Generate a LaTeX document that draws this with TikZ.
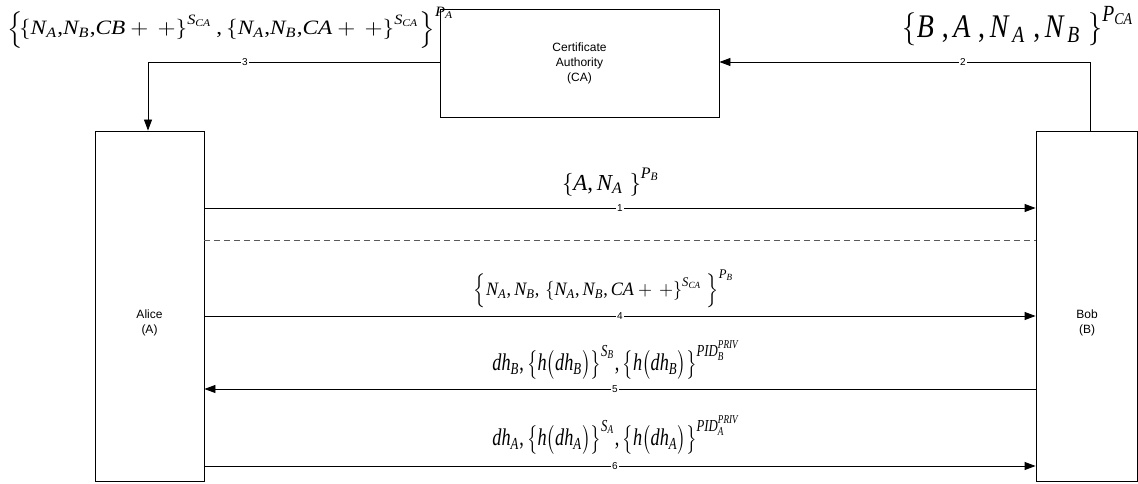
\documentclass[tikz,border=0pt]{standalone}
\usepackage{amsmath}
\usepackage{fontspec}
\setmainfont{Liberation Sans}
\newfontfamily\tms{Liberation Serif}
\usepackage{graphicx}
\usetikzlibrary{arrows.meta,calc}
\newcommand{\mi}[1]{\text{\tms\itshape #1}}
\newcommand{\cm}{\text{\tms ,}\,}
\newcommand{\cmt}{\text{\tms ,}}
\tikzset{
  entity/.style={draw, line width=0.9pt, inner sep=0pt},
  lbl/.style={font=\fontsize{12}{15}\selectfont, align=center},
  num/.style={fill=white, inner sep=1pt, font=\fontsize{10}{12}\selectfont},
  msg/.style={draw, line width=0.9pt, -{Triangle[length=11pt,width=8pt]}},
  sep/.style={draw=black!65, line width=0.9pt, dash pattern=on 6pt off 4pt},
  eq/.style={inner sep=0pt}
}
\begin{document}
\begin{tikzpicture}[x=1pt,y=-1pt]
\useasboundingbox (0,0) rectangle (1138,484);
% boxes
\node[entity, minimum width=279pt, minimum height=108pt] (ca) at (579.5,63) {};
\node[lbl] (catext) at (579.5,63) {Certificate\\Authority\\(CA)};
\node[entity, minimum width=109pt, minimum height=350pt] (alice) at (149.5,306) {};
\node[lbl] (alicetext) at (149.5,323) {Alice\\(A)};
\node[entity, minimum width=101.5pt, minimum height=350pt] (bob) at (1086.75,306) {};
\node[lbl] (bobtext) at (1087,323) {Bob\\(B)};
% corner coordinates
\coordinate (c2) at (1090,62);
\coordinate (c3) at (148,62);
% connectors
\draw[msg] (bob.north -| c2) -- (c2) -- (ca.east |- c2);
\node[num] (n2) at (963,62) {2};
\draw[msg] (ca.west |- c3) -- (c3) -- (alice.north -| c3);
\node[num] (n3) at (245,62) {3};
\draw[msg] (alice.east |- 0,208) -- (bob.west |- 0,208);
\node[num] (n1) at (620,208) {1};
\draw[sep] (alice.east |- 0,240) -- (bob.west |- 0,240);
\draw[msg] (alice.east |- 0,316) -- (bob.west |- 0,316);
\node[num] (n4) at (620,316) {4};
\draw[msg] (bob.west |- 0,389) -- (alice.east |- 0,389);
\node[num] (n5) at (615,389) {5};
\draw[msg] (alice.east |- 0,466) -- (bob.west |- 0,466);
\node[num] (n6) at (615,466) {6};
% formulas
\node[eq] (f3) at (231,27.5) {\resizebox*{447pt}{41pt}{$\left\{\!\left\{\mi{N}_{\mi{A}}\cmt \mi{N}_{\mi{B}}\cmt \mi{CB}+\,+\right\}^{\mi{S}_{\mi{CA}}}\cmt \left\{\mi{N}_{\mi{A}}\cmt \mi{N}_{\mi{B}}\cmt \mi{CA}+\,+\right\}^{\mi{S}_{\mi{CA}}}\right\}^{\mi{P}_{\mi{A}}}$}};
\node[eq] (f2) at (1019,26) {\resizebox*{232pt}{40pt}{$\left\{\mi{B}\ \cm \mi{A}\ \cm \mi{N}_{\,\mi{A}}\ \cm \mi{N}_{\,\mi{B}}\ \right\}^{\mi{P}_{\mi{CA}}}$}};
\node[eq] (f1) at (611,182) {\resizebox{98pt}{!}{$\left\{\mi{A}\cm \mi{N}_{\mi{A}}\ \right\}^{\mi{P}_{\mi{B}}}$}};
\node[eq] (f4) at (604,289) {\resizebox*{260pt}{38pt}{$\left\{\mi{N}_{\mi{A}}\cm \mi{N}_{\mi{B}}\cm \left\{\mi{N}_{\mi{A}}\cm \mi{N}_{\mi{B}}\cm \mi{CA}+\,+\right\}^{\mi{S}_{\mi{CA}}}\ \right\}^{\mi{P}_{\mi{B}}}$}};
\node[eq] (f5) at (616,360) {\resizebox*{247pt}{38pt}{$\mi{dh}_{\mi{B}}\cm \bigl\{\mi{h}\bigl(\mi{dh}_{\mi{B}}\bigr)\bigr\}^{\mi{S}_{\mi{B}}}\cm \bigl\{\mi{h}\bigl(\mi{dh}_{\mi{B}}\bigr)\bigr\}^{\mi{PID}_{\mi{B}}^{\mi{PRIV}}}$}};
\node[eq] (f6) at (616,435) {\resizebox*{247pt}{38pt}{$\mi{dh}_{\mi{A}}\cm \bigl\{\mi{h}\bigl(\mi{dh}_{\mi{A}}\bigr)\bigr\}^{\mi{S}_{\mi{A}}}\cm \bigl\{\mi{h}\bigl(\mi{dh}_{\mi{A}}\bigr)\bigr\}^{\mi{PID}_{\mi{A}}^{\mi{PRIV}}}$}};
\end{tikzpicture}
\end{document}
